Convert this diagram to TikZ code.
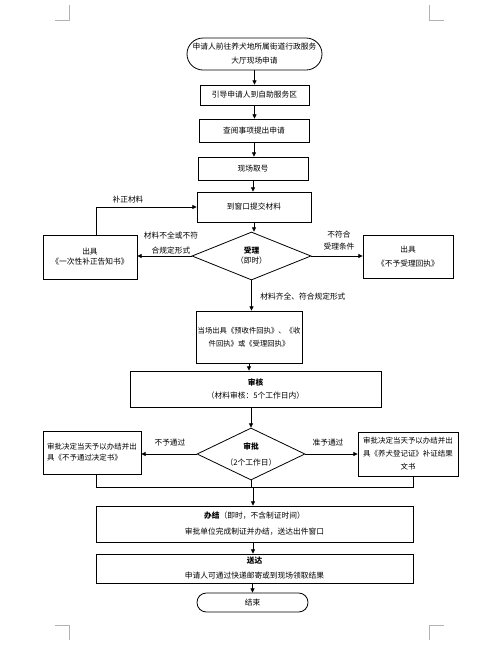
\documentclass[tikz,border=0pt]{standalone}
\usepackage{fontspec}
\setmainfont{Noto Sans CJK SC}
\usetikzlibrary{arrows.meta,shapes.geometric}
\begin{document}
\begin{tikzpicture}[x=0.75pt,y=-0.75pt,
  font=\fontsize{5.8pt}{7pt}\selectfont,
  line width=0.6pt,
  box/.style={draw,rectangle,inner sep=0pt,align=center},
  pill/.style={draw,rectangle,rounded corners=#1,inner sep=0pt,align=center},
  dia/.style={draw,diamond,inner sep=0pt,align=center,shape aspect=2.4},
  arr/.style={-{Triangle[length=3.2pt,width=3pt]}},
  lab/.style={inner sep=0pt,align=center},
  crop/.style={draw=black!30,line width=0.5pt}]
\useasboundingbox (0,0) rectangle (501,651);
% corner marks
\draw[crop] (55,20) -- (69,20) -- (69,5);
\draw[crop] (429,5) -- (429,20) -- (444,20);
\draw[crop] (55,625) -- (69,625) -- (69,640);
\draw[crop] (444,625) -- (429,625) -- (429,640);
% nodes
\node[pill=12pt,minimum width=101.25pt,minimum height=24pt,
  font=\fontsize{5.8pt}{10.5pt}\selectfont] (start) at (254.5,54)
  {申请人前往养犬地所属街道行政服务\\大厅现场申请};
\node[box,minimum width=81.75pt,minimum height=15pt] (b2) at (254.5,95) {引导申请人到自助服务区};
\node[box,minimum width=82.5pt,minimum height=17.25pt] (b3) at (254,130.5) {查阅事项提出申请};
\node[box,minimum width=82.5pt,minimum height=17.25pt] (b4) at (253,168.5) {现场取号};
\node[box,minimum width=85.5pt,minimum height=22.5pt] (b5) at (254,207) {到窗口提交材料};
\node[dia,minimum width=89.25pt,minimum height=36pt,
  font=\fontsize{5.8pt}{7.5pt}\selectfont] (d1) at (251.5,256) {\textbf{受理}\\（即时）};
\node[box,minimum width=70.5pt,minimum height=33pt,
  font=\fontsize{5.8pt}{7.5pt}\selectfont] (L1) at (90,257) {出具\\《一次性补正告知书》};
\node[box,minimum width=67.5pt,minimum height=32.25pt,
  font=\fontsize{5.8pt}{10.5pt}\selectfont] (R1) at (408,256.5) {出具\\《不予受理回执》};
\node[box,minimum width=79.5pt,minimum height=39pt,
  font=\fontsize{5.5pt}{9.75pt}\selectfont] (b6) at (249,337)
  {当场出具《预收件回执》、《收\\件回执》或《受理回执》};
\node[box,minimum width=188.25pt,minimum height=27pt,
  font=\fontsize{5.8pt}{9.75pt}\selectfont] (b7) at (255.5,389)
  {\textbf{审核}\\（材料审核：5个工作日内）};
\node[dia,minimum width=81pt,minimum height=39pt,
  font=\fontsize{5.8pt}{12pt}\selectfont] (d2) at (251,454) {\textbf{审批}\\（2个工作日）};
\node[box,minimum width=73.5pt,minimum height=32.25pt,align=left,
  font=\fontsize{5.6pt}{8.25pt}\selectfont] (L2) at (92,452.5)
  {审批决定当天予以办结并出\\具《不予通过决定书》};
\node[box,minimum width=75pt,minimum height=33pt,
  font=\fontsize{5.6pt}{9.75pt}\selectfont] (R2) at (408,454)
  {审批决定当天予以办结并出\\具《养犬登记证》补证结果\\文书};
\node[box,minimum width=237.75pt,minimum height=27pt,
  font=\fontsize{5.8pt}{12pt}\selectfont] (b8) at (254.5,524)
  {\textbf{办结}（即时，不含制证时间）\\审批单位完成制证并办结，送达出件窗口};
\node[box,minimum width=237.75pt,minimum height=21.75pt,
  font=\fontsize{5.8pt}{11.25pt}\selectfont] (b9) at (254.5,568.5)
  {\textbf{送达}\\申请人可通过快递邮寄或到现场领取结果};
\node[pill=7pt,minimum width=83.25pt,minimum height=14.25pt] (end) at (252.5,602.5) {结束};
% labels
\node[lab] (lbz) at (128,200) {补正材料};
\node[lab,font=\fontsize{5.8pt}{11.25pt}\selectfont] (lq1) at (171,243) {材料不全或不符\\合规定形式};
\node[lab,font=\fontsize{5.8pt}{9pt}\selectfont] (lq2) at (339,241) {不符合\\受理条件};
\node[lab,anchor=west] (lq3) at (260,297) {材料齐全、符合规定形式};
\node[lab] (lq4) at (170,443) {不予通过};
\node[lab] (lq5) at (328,443) {准予通过};
% coordinates
\coordinate (bz) at (96,206);
\coordinate (jl) at (96,487);
\coordinate (jr) at (413,487);
\coordinate (jm) at (253,487);
% connectors
\draw[arr] (start.south) -- (start.south |- b2.north);
\draw[arr] (b2.south) -- (b2.south |- b3.north);
\draw[arr] (b3.south) -- (b3.south |- b4.north);
\draw[arr] (b4.south) -- (b4.south |- b5.north);
\draw[arr] (b5.south) -- (b5.south |- d1.north);
\draw[arr] (d1.west) -- (d1.west -| L1.east);
\draw[arr] (d1.east) -- (d1.east -| R1.west);
\draw[arr] (L1.north -| bz) |- (b5.west);
\draw[arr] (d1.south) -- (d1.south |- b6.north);
\draw[arr] (b6.south) -- (b6.south |- b7.north);
\draw[arr] (b7.south -| d2.north) -- (d2.north);
\draw[arr] (d2.west) -- (d2.west -| L2.east);
\draw[arr] (d2.east) -- (d2.east -| R2.west);
\draw (L2.south -| jl) -- (jl) -- (jr) -- (R2.south -| jr);
\draw (d2.south) -- (d2.south |- jm);
\draw[arr] (jm) -- (jm |- b8.north);
\draw[arr] (b8.south -| jm) -- (jm |- b9.north);
\draw[arr] (b9.south -| end.north) -- (end.north);
\end{tikzpicture}
\end{document}
